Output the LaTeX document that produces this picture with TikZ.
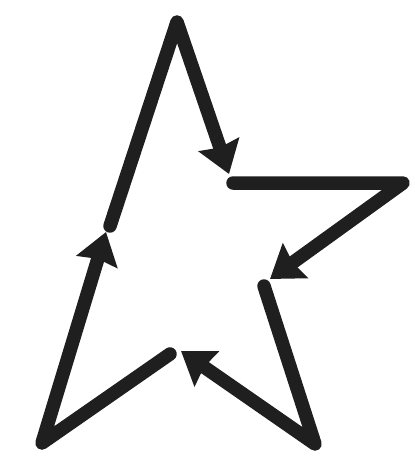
\documentclass[tikz,border=0pt]{standalone}
\usetikzlibrary{arrows.meta}
\begin{document}
\begin{tikzpicture}[%%
  x=1pt,y=-1pt,%%
  strokeStyle/.style={line width=13.5pt,line cap=round,line join=round,draw=black!88},%%
  arrowStyle/.style={strokeStyle,-{Stealth[width=42pt,length=31pt,inset=3pt]}}%%
]
%%
\useasboundingbox (0,0) rectangle (415,467);
%% The star corners.
\coordinate (top) at (177,22);
\coordinate (right) at (403,183);
\coordinate (bottomRight) at (315,444);
\coordinate (bottomLeft) at (42,443);
%% Where each stroke begins and ends.
\coordinate (leftStart) at (110,226);
\coordinate (topEnd) at (229,174);
\coordinate (rightStart) at (233,183);
\coordinate (rightEnd) at (270,279);
\coordinate (lowerStart) at (264,286);
\coordinate (lowerEnd) at (181,351);
\coordinate (bottomStart) at (170,354);
\coordinate (bottomEnd) at (106,232);
%%
%% The four strokes.
\draw[arrowStyle] (leftStart) -- (top) -- (topEnd);
\draw[arrowStyle] (rightStart) -- (right) -- (rightEnd);
\draw[arrowStyle] (lowerStart) -- (bottomRight) -- (lowerEnd);
\draw[arrowStyle] (bottomStart) -- (bottomLeft) -- (bottomEnd);
\end{tikzpicture}
\end{document}
